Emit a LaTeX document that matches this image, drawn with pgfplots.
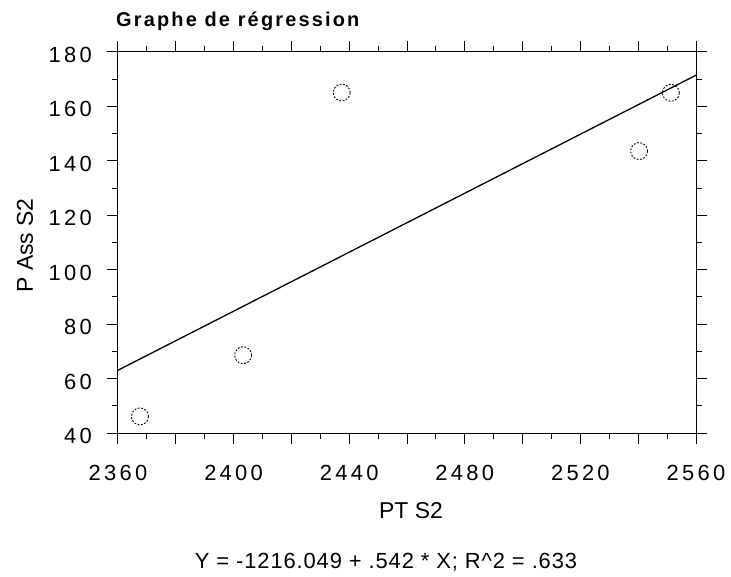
\documentclass[border=0pt]{standalone}
\usepackage{fontspec}
\setmainfont{Liberation Sans}
\newfontfamily\tickfont[LetterSpace=15]{Liberation Sans}
\newfontfamily\titlefont[LetterSpace=11]{Liberation Sans}
\newfontfamily\eqfont[LetterSpace=4]{Liberation Sans}
\usepackage{pgfplots}
\pgfplotsset{compat=1.18}

\begin{document}
\begin{tikzpicture}
% page frame, axis box lower-left corner at the origin
\path[use as bounding box] (-118bp,-144bp) rectangle (613bp,433bp);
\begin{axis}[
  at={(0,0)}, anchor=south west,
  width=578bp, height=381bp, scale only axis,
  xmin=2360, xmax=2560, ymin=40, ymax=180,
  xtick={2360,2380,...,2560},
  xticklabels={2360,,2400,,2440,,2480,,2520,,2560},
  ytick={40,60,...,180},
  minor x tick num=1, minor y tick num=1,
  tick align=outside, tick pos=both,
  xticklabel pos=bottom, yticklabel pos=left,
  major tick length=11bp, minor tick length=6bp,
  axis line style={line width=1bp},
  every tick/.append style={black, line width=1bp},
  ticklabel style={font=\tickfont\fontsize{22}{26}\selectfont, inner sep=0pt},
  xticklabel style={anchor=north},
  yticklabel style={anchor=east, yshift=-3bp},
  xticklabel shift=21bp,
  yticklabel shift=15bp,
  /pgf/number format/assume math mode=true,
  /pgf/number format/1000 sep={},
  clip=false,
]
% least-squares line Y = -1216.049 + .542 X
\addplot[black, line width=1.3bp] coordinates {(2360,63.071) (2560,171.471)};
% observations
\addplot[only marks, mark=o, mark size=8.5bp,
  mark options={black, line width=0.9bp, dash pattern=on 1.8bp off 1.6bp}]
  coordinates {
    (2367.6,46.1)
    (2403.3,68.6)
    (2437.4,165.1)
    (2540.3,143.6)
    (2551.3,165.0)
  };
\end{axis}
% titles and labels
\node[anchor=base west, inner sep=0pt] at (-2bp,406bp)
  {\titlefont\bfseries\fontsize{20}{24}\selectfont Graphe de régression};
\node[anchor=base, inner sep=0pt] at (293bp,-85bp)
  {\fontsize{23}{27}\selectfont PT S2};
\node[anchor=base, inner sep=0pt, rotate=90] at (-85bp,187.5bp)
  {\fontsize{23}{27}\selectfont P Ass S2};
\node[anchor=base, inner sep=0pt] at (268bp,-135bp)
  {\eqfont\fontsize{22}{26}\selectfont Y = -1216.049 + .542 * X; R\textasciicircum 2 = .633};
\end{tikzpicture}
\end{document}
